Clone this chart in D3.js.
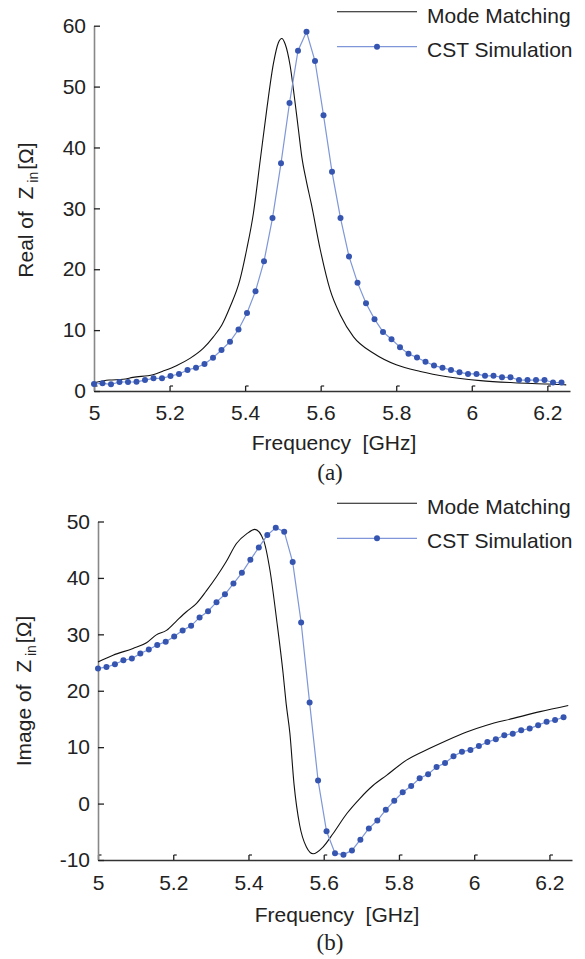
<!DOCTYPE html>
<html>
<head>
<meta charset="utf-8">
<script src="https://cdn.jsdelivr.net/npm/d3@7"></script>
<style>
  body { margin: 0; background: #fff; }
  .chart text { font-family: "Liberation Sans", Arial, sans-serif; fill: #222; }
  .chart .panel-tag { font-family: "Liberation Serif", "Times New Roman", serif; }
</style>
</head>
<body>
<div class="chart"></div>
<script>
// CST sample frequencies (GHz)
var cstFreq = [5.0000, 5.0225, 5.0450, 5.0675, 5.0900, 5.1125, 5.1350, 5.1575, 5.1800, 5.2025,
    5.2250, 5.2475, 5.2700, 5.2925, 5.3150, 5.3375, 5.3600, 5.3825, 5.4050, 5.4275,
    5.4500, 5.4725, 5.4950, 5.5175, 5.5400, 5.5625, 5.5850, 5.6075, 5.6300, 5.6525,
    5.6750, 5.6975, 5.7200, 5.7425, 5.7650, 5.7875, 5.8100, 5.8325, 5.8550, 5.8775,
    5.9000, 5.9225, 5.9450, 5.9675, 5.9900, 6.0125, 6.0350, 6.0575, 6.0800, 6.1025,
    6.1250, 6.1475, 6.1700, 6.1925, 6.2150, 6.2375];

var realCst = [1.15, 1.26, 1.1, 1.48, 1.48, 1.5, 1.8, 2.08, 2.08, 2.46,
    2.79, 3.45, 3.83, 4.43, 5.47, 6.73, 8.1, 10.1, 12.8, 16.4,
    21.3, 28.4, 37.4, 47.3, 55.9, 59.0, 54.2, 45.3, 36.0, 28.4,
    22.1, 17.8, 14.4, 11.8, 9.7, 8.5, 7.2, 6.1, 5.5, 4.8,
    4.2, 3.8, 3.45, 3.07, 2.8, 2.8, 2.5, 2.5, 2.25, 2.25,
    1.8, 1.8, 1.8, 1.8, 1.4, 1.4];

var imagCst = [23.95, 24.2, 24.7, 25.4, 25.7, 26.6, 27.3, 28.1, 28.7, 29.6,
    30.7, 31.5, 33.0, 34.1, 35.7, 37.1, 39.0, 40.9, 43.2, 45.4,
    47.6, 48.9, 48.2, 42.8, 32.1, 17.9, 4.1, -4.9, -8.8, -9.05,
    -8.3, -6.4, -4.4, -3.0, -1.1, 0.5, 2.0, 3.1, 4.5, 5.2,
    6.5, 7.2, 8.4, 9.2, 9.5, 10.2, 10.9, 11.4, 12.1, 12.4,
    13.0, 13.3, 13.9, 14.5, 14.8, 15.3];

// mode matching curves
var mmRealFreq = [5.0, 5.04, 5.077, 5.103, 5.156, 5.183, 5.218, 5.254, 5.289, 5.316,
    5.338, 5.36, 5.386, 5.404, 5.422, 5.44, 5.457, 5.475, 5.488, 5.497,
    5.506, 5.519, 5.53, 5.541, 5.55, 5.562, 5.575, 5.599, 5.625, 5.652,
    5.687, 5.74, 5.80, 5.864, 5.935, 6.023, 6.111, 6.2, 6.25];
var mmRealVals = [1.35, 1.8, 1.92, 2.24, 2.68, 3.28, 4.16, 5.36, 7.0, 8.9,
    10.8, 13.8, 18.2, 23.2, 29.2, 37.9, 46.1, 53.8, 57.2, 57.9,
    57.0, 53.5, 48.5, 43.0, 38.5, 34.5, 30.8, 23.2, 16.6, 12.5,
    8.9, 6.2, 4.3, 3.2, 2.35, 1.7, 1.36, 1.15, 1.0];

var mmImagFreq = [5.0, 5.04, 5.093, 5.129, 5.155, 5.182, 5.209, 5.235, 5.262, 5.288,
    5.315, 5.341, 5.368, 5.395, 5.417, 5.44, 5.457, 5.475, 5.492, 5.50,
    5.51, 5.521, 5.536, 5.554, 5.572, 5.598, 5.625, 5.661, 5.696, 5.731,
    5.767, 5.82, 5.882, 5.927, 5.98, 6.033, 6.104, 6.175, 6.25];
var mmImagVals = [25.1, 26.3, 27.5, 28.5, 29.9, 30.7, 32.4, 34.0, 35.5, 37.7,
    40.2, 42.9, 46.1, 47.8, 48.6, 46.7, 41.4, 32.5, 23.1, 17.8,
    12.5, 3.5, -3.8, -7.7, -8.9, -7.7, -5.3, -1.8, 0.9, 3.2,
    5.0, 7.7, 9.8, 11.2, 12.7, 13.9, 15.1, 16.3, 17.4];

var freqTicks = [5, 5.2, 5.4, 5.6, 5.8, 6, 6.2];
var realTicks = [0, 10, 20, 30, 40, 50, 60];
var imagTicks = [-10, 0, 10, 20, 30, 40, 50];
var legendLabels = ["Mode Matching", "CST Simulation"];

var width = 585, height = 959;
var blueLine = "#7f97d8", blueDot = "#3555b0";

var svg = d3.select(".chart").append("svg")
    .attr("width", width)
    .attr("height", height);

svg.append("rect").attr("width", width).attr("height", height).attr("fill", "#fff");

var panels = [
    {x0: 94, x1: 570, y0: 391, y1: 25.7, ydom: [0, 60], yticks: realTicks,
     mmF: mmRealFreq, mmV: mmRealVals, cst: realCst,
     ylabel: "Real of  Z", ylabelY: 210, ylabelX: 33,
     xlabelY: 450, tag: "(a)", tagY: 480, legY: 11.7, padX: 14},
    {x0: 98, x1: 572, y0: 860, y1: 521.5, ydom: [-10, 50], yticks: imagTicks,
     mmF: mmImagFreq, mmV: mmImagVals, cst: imagCst,
     ylabel: "Image of  Z", ylabelY: 691, ylabelX: 31,
     xlabelY: 922, tag: "(b)", tagY: 950, legY: 503.3, padX: 15}
];

panels.forEach(drawPanel);

function drawPanel(p) {
    var x = d3.scaleLinear().domain([5, 6.26]).range([p.x0, p.x1]);
    var y = d3.scaleLinear().domain(p.ydom).range([p.y0, p.y1]);
    var g = svg.append("g");

    // x axis, ticks pointing inward
    var xAxis = g.append("g")
        .attr("transform", "translate(0," + p.y0 + ")")
        .call(d3.axisBottom(x).tickValues(freqTicks).tickSize(-5).tickSizeOuter(0)
            .tickPadding(p.padX).tickFormat(d => String(d)));
    xAxis.select(".domain").attr("stroke", "#333").attr("stroke-width", 1.3);
    xAxis.selectAll(".tick line").attr("stroke", "#222").attr("stroke-width", 1.3);
    xAxis.selectAll(".tick").append("line")
        .attr("x1", 0).attr("x2", 3).attr("y1", -5).attr("y2", -5)
        .attr("stroke", "#222").attr("stroke-width", 1.2);
    xAxis.selectAll("text").attr("font-size", 21).attr("fill", "#222");
    xAxis.attr("font-family", null);

    var yAxis = g.append("g")
        .attr("transform", "translate(" + p.x0 + ",0)")
        .call(d3.axisLeft(y).tickValues(p.yticks).tickSize(-6).tickSizeOuter(0)
            .tickPadding(8).tickFormat(d => String(d)));
    yAxis.select(".domain").attr("stroke", "#888").attr("stroke-width", 1.6);
    yAxis.selectAll(".tick line").attr("stroke", "#222").attr("stroke-width", 1.3);
    yAxis.selectAll("text").attr("font-size", 21).attr("fill", "#222");
    yAxis.attr("font-family", null);

    // mode matching
    var mm = p.mmF.map((f, i) => ({f: f, v: p.mmV[i]}));
    g.append("path")
        .datum(mm)
        .attr("fill", "none")
        .attr("stroke", "#111")
        .attr("stroke-width", 1.1)
        .attr("d", d3.line().curve(d3.curveMonotoneX).x(d => x(d.f)).y(d => y(d.v)));

    // CST
    var cst = cstFreq.map((f, i) => ({f: f, v: p.cst[i]}));
    g.append("path")
        .datum(cst)
        .attr("fill", "none")
        .attr("stroke", blueLine)
        .attr("stroke-width", 1.2)
        .attr("d", d3.line().x(d => x(d.f)).y(d => y(d.v)));
    g.append("g")
        .selectAll("circle")
        .data(cst)
        .join("circle")
        .attr("cx", d => x(d.f))
        .attr("cy", d => y(d.v))
        .attr("r", 3)
        .attr("fill", blueDot);

    // axis labels
    g.append("text")
        .attr("x", (p.x0 + p.x1) / 2 + 2)
        .attr("y", p.xlabelY)
        .attr("text-anchor", "middle")
        .attr("font-size", 21)
        .attr("xml:space", "preserve")
        .text("Frequency  [GHz]");

    var yl = g.append("text")
        .attr("transform", "translate(" + p.ylabelX + "," + p.ylabelY + ") rotate(-90)")
        .attr("text-anchor", "middle")
        .attr("font-size", 21)
        .attr("xml:space", "preserve");
    yl.append("tspan").text(p.ylabel);
    yl.append("tspan").attr("font-size", 14).attr("dy", 5).attr("dx", 4).text("in");
    yl.append("tspan").attr("dy", -5).attr("dx", 2).text("[Ω]");

    g.append("text")
        .attr("class", "panel-tag")
        .attr("x", 330)
        .attr("y", p.tagY)
        .attr("text-anchor", "middle")
        .attr("font-size", 23)
        .text(p.tag);

    // legend
    var leg = g.append("g").attr("transform", "translate(337," + p.legY + ")");
    leg.append("line").attr("x1", 0).attr("x2", 80).attr("y1", 0).attr("y2", 0)
        .attr("stroke", "#111").attr("stroke-width", 1.1);
    leg.append("line").attr("x1", 0).attr("x2", 80).attr("y1", 35).attr("y2", 35)
        .attr("stroke", blueLine).attr("stroke-width", 1.2);
    leg.append("circle").attr("cx", 40).attr("cy", 35).attr("r", 3).attr("fill", blueDot);
    leg.selectAll("text.lab")
        .data(legendLabels)
        .join("text")
        .attr("class", "lab")
        .attr("x", 90)
        .attr("y", (d, i) => 11 + i * 34)
        .attr("font-size", 21)
        .text(d => d);
}
</script>
</body>
</html>
